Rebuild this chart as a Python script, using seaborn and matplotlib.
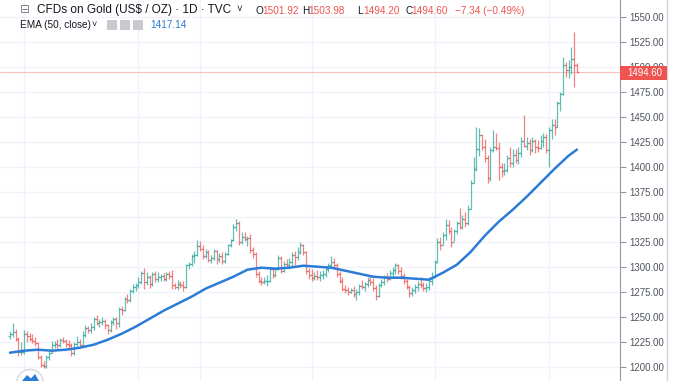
import matplotlib
matplotlib.use("Agg")
import matplotlib.pyplot as plt
from matplotlib.patches import Ellipse
import numpy as np
import pandas as pd
import seaborn as sns

# daily OHLC bars (open = previous close)
first_open = 1231
highs = [1236, 1244, 1238, 1230, 1225, 1237, 1236, 1234, 1233, 1230,
         1225, 1212, 1206, 1212, 1217, 1226, 1226, 1228, 1229, 1230,
         1228, 1227, 1224, 1225, 1231, 1228, 1236, 1242, 1241, 1244,
         1250, 1252, 1248, 1250, 1248, 1243, 1247, 1250, 1250, 1260,
         1261, 1270, 1273, 1278, 1283, 1284, 1290, 1296, 1299, 1295,
         1292, 1295, 1296, 1295, 1293, 1294, 1295, 1296, 1297, 1284,
         1287, 1286, 1286, 1303, 1305, 1313, 1316, 1327, 1326, 1322,
         1318, 1317, 1312, 1318, 1317, 1314, 1315, 1315, 1323, 1328,
         1343, 1348, 1346, 1335, 1335, 1331, 1333, 1320, 1315, 1296,
         1290, 1290, 1292, 1300, 1300, 1300, 1312, 1311, 1306, 1308,
         1309, 1315, 1316, 1320, 1325, 1323, 1316, 1299, 1298, 1295,
         1297, 1296, 1297, 1300, 1304, 1311, 1309, 1304, 1296, 1290,
         1282, 1280, 1279, 1281, 1278, 1283, 1287, 1285, 1290, 1292,
         1289, 1282, 1284, 1288, 1292, 1294, 1297, 1300, 1304, 1303,
         1300, 1294, 1288, 1282, 1280, 1283, 1286, 1290, 1285, 1284,
         1290, 1295, 1307, 1329, 1330, 1335, 1348, 1347, 1340, 1338,
         1346, 1359, 1352, 1355, 1362, 1387, 1410, 1440, 1439, 1433,
         1428, 1412, 1420, 1437, 1434, 1425, 1404, 1404, 1412, 1420,
         1418, 1418, 1420, 1430, 1452, 1430, 1428, 1430, 1428, 1427,
         1432, 1434, 1433, 1440, 1448, 1448, 1466, 1475, 1510, 1505,
         1507, 1520, 1535, 1503.98]
lows = [1228, 1230, 1226, 1211, 1212, 1213, 1225, 1226, 1224, 1221,
        1208, 1200, 1199, 1199, 1207, 1214, 1219, 1218, 1220, 1224,
        1220, 1218, 1211, 1212, 1221, 1220, 1222, 1230, 1234, 1234,
        1237, 1242, 1240, 1242, 1238, 1233, 1235, 1242, 1238, 1240,
        1252, 1256, 1264, 1265, 1274, 1276, 1279, 1283, 1278, 1282,
        1279, 1281, 1285, 1285, 1286, 1286, 1286, 1288, 1278, 1278,
        1277, 1279, 1276, 1279, 1298, 1301, 1304, 1311, 1316, 1308,
        1309, 1305, 1304, 1307, 1303, 1305, 1303, 1304, 1312, 1320,
        1326, 1336, 1322, 1323, 1326, 1321, 1314, 1309, 1290, 1284,
        1282, 1283, 1281, 1285, 1289, 1290, 1297, 1294, 1295, 1300,
        1300, 1300, 1302, 1307, 1313, 1312, 1293, 1288, 1286, 1287,
        1287, 1286, 1288, 1290, 1295, 1299, 1299, 1290, 1284, 1276,
        1274, 1272, 1274, 1270, 1267, 1272, 1278, 1276, 1280, 1282,
        1276, 1267, 1270, 1280, 1282, 1285, 1287, 1290, 1293, 1293,
        1288, 1283, 1278, 1270, 1271, 1274, 1276, 1279, 1276, 1275,
        1277, 1282, 1289, 1304, 1317, 1322, 1327, 1333, 1320, 1326,
        1333, 1338, 1338, 1340, 1342, 1358, 1384, 1396, 1411, 1417,
        1405, 1384, 1386, 1415, 1417, 1387, 1390, 1392, 1395, 1400,
        1400, 1404, 1403, 1410, 1420, 1417, 1412, 1415, 1414, 1415,
        1418, 1420, 1414, 1400, 1428, 1432, 1440, 1456, 1472, 1490,
        1489, 1493, 1480, 1494.20]
closes = [1233, 1235, 1228, 1215, 1215, 1233, 1231, 1228, 1226, 1224,
          1210, 1202, 1201, 1210, 1214, 1222, 1223, 1222, 1227, 1226,
          1223, 1222, 1214, 1223, 1225, 1222, 1232, 1239, 1237, 1240,
          1248, 1244, 1245, 1246, 1242, 1237, 1245, 1248, 1244, 1258,
          1257, 1268, 1267, 1276, 1280, 1282, 1285, 1294, 1285, 1290,
          1283, 1293, 1288, 1290, 1291, 1288, 1293, 1291, 1282, 1280,
          1283, 1282, 1280, 1302, 1303, 1311, 1312, 1321, 1318, 1311,
          1315, 1307, 1309, 1316, 1308, 1311, 1306, 1313, 1322, 1327,
          1340, 1344, 1325, 1330, 1328, 1329, 1317, 1313, 1293, 1286,
          1285, 1286, 1286, 1298, 1292, 1298, 1309, 1296, 1303, 1302,
          1305, 1312, 1310, 1315, 1322, 1315, 1296, 1292, 1289, 1291,
          1290, 1292, 1293, 1298, 1302, 1305, 1302, 1293, 1286, 1278,
          1277, 1275, 1277, 1273, 1275, 1281, 1280, 1283, 1287, 1285,
          1279, 1271, 1282, 1285, 1290, 1288, 1294, 1297, 1302, 1296,
          1291, 1286, 1280, 1274, 1277, 1280, 1283, 1282, 1279, 1280,
          1286, 1290, 1305, 1325, 1322, 1332, 1342, 1336, 1325, 1336,
          1344, 1340, 1348, 1344, 1358, 1384, 1398, 1418, 1432, 1420,
          1409, 1389, 1417, 1420, 1419, 1400, 1396, 1397, 1409, 1404,
          1412, 1407, 1414, 1426, 1421, 1424, 1417, 1426, 1420, 1419,
          1426, 1430, 1417, 1437, 1442, 1440, 1464, 1473, 1502, 1497,
          1500, 1508, 1501.94, 1494.60]
last_open = 1501.92

# EMA(50), every 5th bar
ema_bars = [0, 5, 10, 15, 20, 25, 30, 35, 40, 45, 50, 55, 60, 65, 70, 75, 80,
            85, 90, 95, 100, 105, 110, 115, 120, 125, 130, 135, 140, 145, 150,
            155, 160, 165, 170, 175, 180, 185, 190, 195, 200, 203]
ema_vals = [1214, 1216, 1217, 1216, 1217, 1219, 1222, 1227, 1233, 1240, 1248,
            1256, 1263, 1270, 1278, 1284, 1290, 1297, 1299, 1298, 1299, 1301,
            1300, 1299, 1296, 1293, 1290, 1289, 1289, 1288, 1287, 1294, 1302,
            1315, 1331, 1345, 1357, 1370, 1384, 1398, 1411, 1417.14]

month_bars = [5, 46, 68, 108, 152, 193]
price_ticks = [1200, 1225, 1250, 1275, 1300, 1325, 1350, 1375, 1400, 1425,
               1450, 1475, 1500, 1525, 1550]

UP = "#26a69a"
DOWN = "#ef5350"
EMA_C = "#2c7bd6"
TXT = "#4c525e"
DARK = "#131722"

opens = [first_open] + closes[:-1]
opens[-1] = last_open
df = pd.DataFrame({"open": opens, "high": highs, "low": lows, "close": closes})
df["bar"] = np.arange(len(df))
df["color"] = np.where(df["close"] >= df["open"], UP, DOWN)
ema = pd.DataFrame({"bar": ema_bars, "ema": ema_vals})

sns.set_theme(style="white")
plt.rcParams["font.family"] = ["Liberation Sans", "DejaVu Sans"]

W, H = 678, 381
fig = plt.figure(figsize=(W / 100, H / 100), dpi=100)
fig.patch.set_facecolor("white")
ax = fig.add_axes([0, 0, 620 / W, 1])
ax.set_facecolor("white")

for b in month_bars:
    ax.axvline(b, color="#f0f3fa", lw=1, zorder=0)
for p in price_ticks:
    ax.axhline(p, color="#f0f3fa", lw=1, zorder=0)

bar_kw = dict(colors=df["color"], lw=0.9, alpha=0.72, zorder=2)
ax.vlines(df["bar"], df["low"], df["high"], **bar_kw)
ax.hlines(df["open"], df["bar"] - 0.7, df["bar"], **bar_kw)
ax.hlines(df["close"], df["bar"], df["bar"] + 0.7, **bar_kw)

sns.lineplot(data=ema, x="bar", y="ema", ax=ax, color=EMA_C, lw=1.8, zorder=3)

ax.axhline(closes[-1], color=DOWN, lw=0.8, alpha=0.35, zorder=1)

ax.set_xlim(-3.58, 218.4)
ax.set_ylim(1185.7, 1566.7)
ax.set_xlabel("")
ax.set_ylabel("")
ax.set_xticks([])
ax.yaxis.tick_right()
ax.set_yticks(price_ticks)
ax.set_yticklabels([f"{p:.2f}" for p in price_ticks])
ax.tick_params(axis="y", direction="out", length=4, width=0.8, color="#9598a1",
               labelsize=6.9, labelcolor=TXT, pad=3, right=True)
for s in ["top", "left", "bottom"]:
    ax.spines[s].set_visible(False)
ax.spines["right"].set_color("#9598a1")
ax.spines["right"].set_linewidth(0.8)

def px(x, y):
    return x / W, 1 - y / H

# last price label (covers most of the 1500.00 tick label, as in the original)
fig.patches.append(plt.Rectangle(px(620, 79.5), 47 / W, 14 / H, transform=fig.transFigure,
                                 facecolor=DOWN, edgecolor="none", zorder=5))
fig.text(*px(627, 72.5), f"{closes[-1]:.2f}", color="white", fontsize=6.9, va="center",
         ha="left", zorder=6)
fig.add_artist(plt.Line2D([667 / W, 667 / W], [0, 1], transform=fig.transFigure,
                          color="#d1d4dc", lw=1))

# tradingview logo, cut by the bottom edge
fig.patches.append(Ellipse(px(30, 383), 27 / W, 27 / H, transform=fig.transFigure,
                           facecolor="white", edgecolor="#d6d8de", lw=1, zorder=4))
fig.patches.append(plt.Polygon([px(22, 381), px(27, 375), px(31, 378.5), px(35, 374),
                                px(39, 381)], closed=True, transform=fig.transFigure,
                               facecolor="#2c7bd6", edgecolor="none", zorder=5))

# legend rows
fig.text(*px(20, 10), "\u229f", color="#787b86", fontsize=8.5, va="center")
fig.text(*px(37, 10), "CFDs on Gold (US$ / OZ) \u00b7 1D \u00b7 TVC", color=DARK,
         fontsize=8.5, va="center")
fig.text(*px(237, 9), "\u02c5", color=DARK, fontsize=7, va="center")
ohlc = [("O", 256, "1501.92"), ("H", 302, "1503.98"), ("L", 357, "1494.20"),
        ("C", 405, "1494.60")]
for lab, x, val in ohlc:
    fig.text(*px(x, 10.5), lab, color=DARK, fontsize=7.2, va="center")
    fig.text(*px(x + 6.5, 10.5), val, color=DOWN, fontsize=7.2, va="center")
fig.text(*px(455, 10.5), "\u22127.34 (\u22120.49%)", color=DOWN, fontsize=7.2, va="center")

fig.text(*px(20, 25), "EMA (50, close)", color=DARK, fontsize=7.2, va="center")
fig.text(*px(92, 24), "\u02c5", color=DARK, fontsize=6.5, va="center")
for x in [107, 120, 133]:
    fig.patches.append(plt.Rectangle(px(x, 30), 10 / W, 10 / H, transform=fig.transFigure,
                                     facecolor="#c8cad0", edgecolor="none"))
fig.text(*px(150, 25), "1417.14", color=EMA_C, fontsize=7.2, va="center")

fig.savefig("out.png", dpi=100)
